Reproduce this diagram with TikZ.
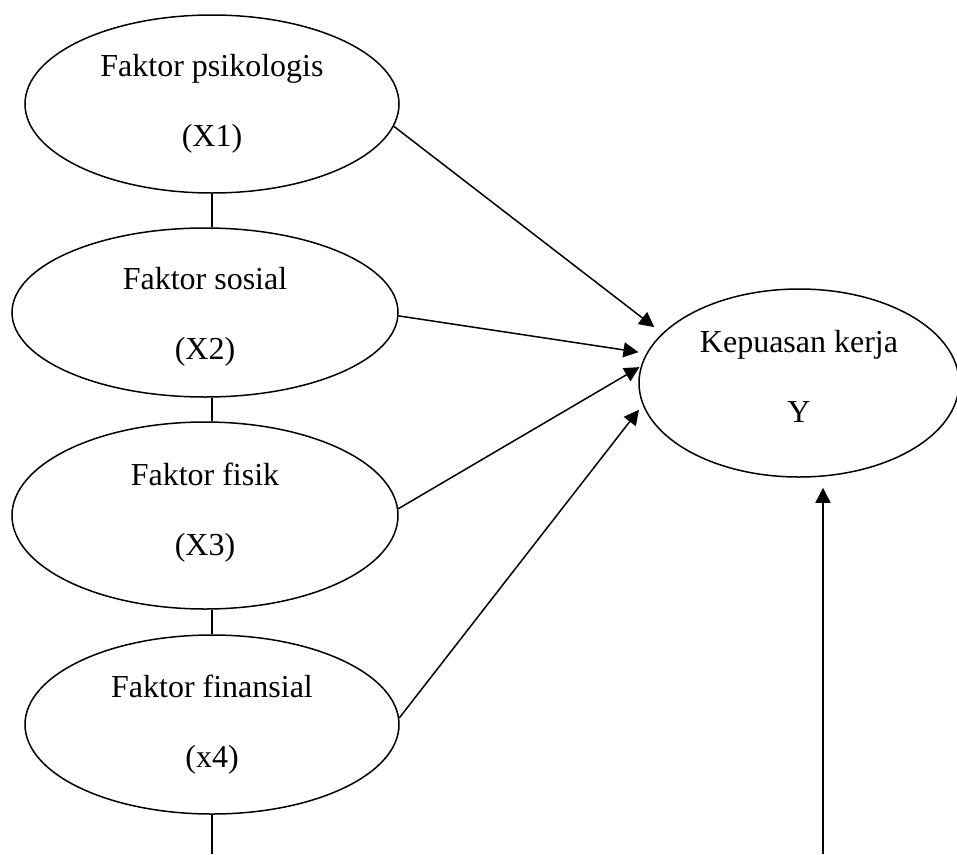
\documentclass[tikz,border=0pt]{standalone}
\usepackage{fontspec}
\setmainfont{Liberation Serif}
\usetikzlibrary{arrows.meta,shapes.geometric}
\begin{document}
\begin{tikzpicture}[x=1pt,y=-1pt,
  ell/.style={draw, ellipse, line width=1.5pt, inner sep=0pt, align=center,
              font=\fontsize{32}{70}\selectfont},
  conn/.style={line width=1.5pt},
  arr/.style={line width=1.5pt, -{Triangle[length=15pt,width=15pt]}}]
\useasboundingbox (0,0) rectangle (957,854);
\node[ell, minimum width=374pt, minimum height=178pt] (x1) at (212,104)
  {Faktor psikologis\\(X1)};
\node[ell, minimum width=386pt, minimum height=169pt] (x2) at (205,312.5)
  {\rule{0pt}{31pt}Faktor sosial\\(X2)};
\node[ell, minimum width=386pt, minimum height=187pt] (x3) at (205,515.5)
  {Faktor fisik\\(X3)\rule[-12pt]{0pt}{12pt}};
\node[ell, minimum width=374pt, minimum height=179pt] (x4) at (212,724.5)
  {Faktor finansial\\(x4)};
\node[ell, minimum width=320pt, minimum height=188pt] (ky) at (799,383)
  {Kepuasan kerja\\Y\rule[-13pt]{0pt}{13pt}};
\coordinate (b1) at (212,854);
\coordinate (b2) at (823,854);
\draw[conn] (x1.south) -- (x1.south |- x2.north);
\draw[conn] (x1.south |- x2.south) -- (x1.south |- x3.north);
\draw[conn] (x1.south |- x3.south) -- (x1.south |- x4.north);
\draw[conn] (x4.south) -- (b1);
\draw[arr, shorten >=10pt] (x1.-7) -- (ky.160);
\draw[arr, shorten >=8pt] (x2.-1) -- (ky.169);
\draw[arr, shorten >=1.5pt] (x3.2) -- (ky.174);
\draw[arr, shorten >=6pt] (x4.2) -- (ky.188);
\draw[arr, shorten >=10pt] (b2) -- (b2 |- ky.south);
\end{tikzpicture}
\end{document}
